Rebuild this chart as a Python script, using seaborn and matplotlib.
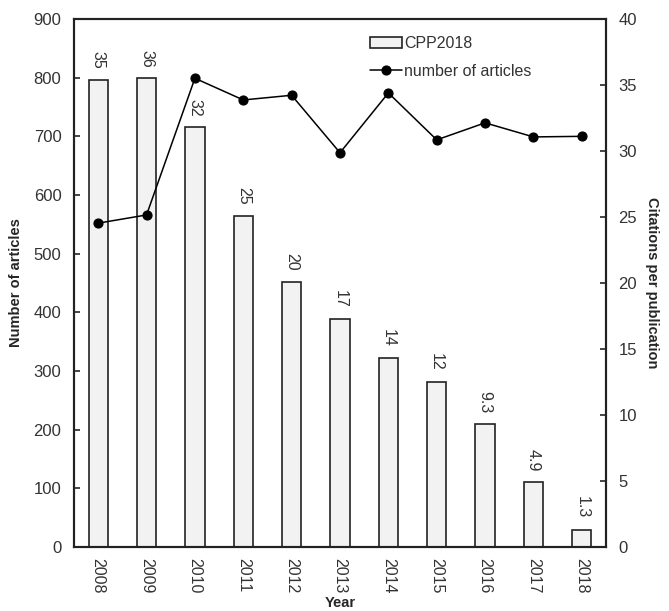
import matplotlib
matplotlib.use('Agg')
import matplotlib.pyplot as plt
import seaborn as sns

years = ['2008', '2009', '2010', '2011', '2012', '2013', '2014', '2015', '2016', '2017', '2018']
articles = [552, 566, 799, 762, 770, 672, 774, 694, 723, 699, 700]
cpp = [35.4, 35.5, 31.8, 25.1, 20.1, 17.3, 14.3, 12.5, 9.3, 4.9, 1.3]
cpp_labels = ['35', '36', '32', '25', '20', '17', '14', '12', '9.3', '4.9', '1.3']

sns.set_theme(style='ticks')
plt.rcParams['font.family'] = ['Liberation Sans', 'DejaVu Sans']

fig, ax = plt.subplots(figsize=(6.69, 6.11), dpi=100)
fig.subplots_adjust(left=74/669, right=606/669, top=1-19/611, bottom=1-547/611)

sns.barplot(x=years, y=cpp, color='#f2f2f2', edgecolor='#222222', linewidth=1.2,
            width=0.4, saturation=1, ax=ax, label='CPP2018')
if ax.get_legend() is not None:
    ax.get_legend().remove()
ax.bar_label(ax.containers[0], labels=cpp_labels, rotation=-90, padding=8,
             fontsize=11.5, color='#333333')

ax2 = ax.twinx()
sns.pointplot(x=years, y=articles, color='black', markers='o', markersize=6.5,
              linewidth=1.1, ax=ax2, label='number of articles')
if ax2.get_legend() is not None:
    ax2.get_legend().remove()

ax.yaxis.tick_right()
ax.yaxis.set_label_position('right')
ax2.yaxis.tick_left()
ax2.yaxis.set_label_position('left')

ax.set_ylim(0, 40)
ax2.set_ylim(0, 900)
ax.set_xlim(-0.5, 10.5)
ax2.set_xlim(-0.5, 10.5)
ax.set_yticks(range(0, 41, 5))
ax2.set_yticks(range(0, 901, 100))

for a in (ax, ax2):
    for s in a.spines.values():
        s.set_visible(True)
        s.set_linewidth(1.5)
        s.set_color('#222222')
    a.tick_params(axis='y', direction='in', length=4.5, width=1.2, labelsize=12,
                  labelcolor='#333333', pad=9)
    a.tick_params(axis='x', length=0, labelsize=11.5, labelcolor='#333333', pad=8,
                  labelrotation=-90)

ax.set_xlabel('Year', fontweight='bold', fontsize=10.5, labelpad=2)
ax.set_ylabel('Citations per publication', fontweight='bold', fontsize=10.5,
              rotation=270, labelpad=16)
ax2.set_ylabel('Number of articles', fontweight='bold', fontsize=10.5, labelpad=8)

h1, l1 = ax.get_legend_handles_labels()
h2, l2 = ax2.get_legend_handles_labels()
leg = ax2.legend(h1 + h2, l1 + l2, loc='upper left', bbox_to_anchor=(0.53, 0.995),
                 frameon=False, fontsize=11.5, handlelength=2.0, handletextpad=0.1,
                 labelspacing=0.8)
for t in leg.get_texts():
    t.set_color('#333333')

fig.savefig('out.png', dpi=100)
